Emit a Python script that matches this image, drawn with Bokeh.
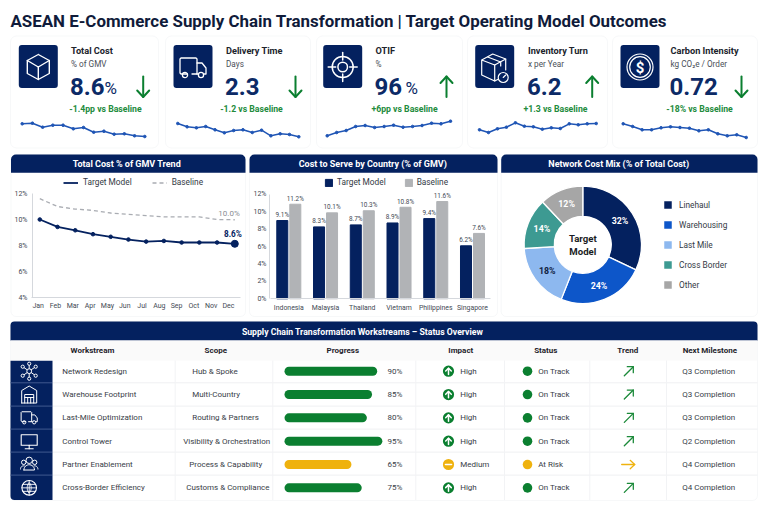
import numpy as np
from bokeh.core.properties import value
from bokeh.embed import file_html
from bokeh.layouts import column, row
from bokeh.models import (BoxAnnotation, FixedTicker, LegendItem, Legend, LinearAxis,
                          PrintfTickFormatter, Range1d)
from bokeh.plotting import figure
from bokeh.resources import INLINE

# ---------- data ----------
TITLE = "ASEAN E-Commerce Supply Chain Transformation | Target Operating Model Outcomes"
kpi_names = ["Total Cost", "Delivery Time", "OTIF", "Inventory Turn", "Carbon Intensity"]
kpi_units = ["% of GMV", "Days", "%", "x per Year", "kg CO₂e / Order"]
kpi_values = ["8.6", "2.3", "96", "6.2", "0.72"]
kpi_suffix = ["%", "", "%", "", ""]
kpi_deltas = ["-1.4pp vs Baseline", "-1.2 vs Baseline", "+6pp vs Baseline", "+1.3 vs Baseline", "-18% vs Baseline"]
kpi_up = [False, False, True, True, False]
spark_cost = [16.7, 17.3, 13.3, 15.3, 15.3, 11.7, 13, 8.3, 9.3, 6.3, 6.7, 4.7, 4]
spark_delivery = [17, 13.7, 12.7, 14, 10.7, 7.7, 10, 10.7, 8, 10.3, 4.7, 6.7, 6, 3.7]
spark_otif = [4.7, 8, 10, 14, 15, 13, 14, 15.3, 13.3, 14, 15, 17.3, 16.7, 19.3]
spark_turn = [10.7, 8, 11.7, 13.3, 17.7, 14.3, 13.7, 11.3, 12.7, 12, 16.7, 15.7, 16.7, 17]
spark_carbon = [16.7, 14, 10.7, 10.7, 12.7, 13.7, 13, 12.3, 9.7, 10.7, 6.7, 4.7, 5.7, 3]

months = ["Jan", "Feb", "Mar", "Apr", "May", "Jun", "Jul", "Aug", "Sep", "Oct", "Nov", "Dec"]
trend_target = [10.0, 9.43, 9.17, 8.87, 8.67, 8.46, 8.3, 8.35, 8.23, 8.23, 8.23, 8.13]
trend_baseline = [11.6, 11.0, 10.8, 10.7, 10.5, 10.4, 10.3, 10.2, 10.2, 10.2, 10.0, 9.98]

countries = ["Indonesia", "Malaysia", "Thailand", "Vietnam", "Philippines", "Singapore"]
country_target = [8.98, 8.25, 8.48, 8.7, 9.2, 6.08]
country_baseline = [10.85, 9.86, 10.1, 10.5, 11.16, 7.5]
target_labels = ["9.1%", "8.3%", "8.7%", "8.9%", "9.4%", "6.2%"]
baseline_labels = ["11.2%", "10.1%", "10.3%", "10.8%", "11.6%", "7.6%"]

mix_names = ["Linehaul", "Warehousing", "Last Mile", "Cross Border", "Other"]
mix_shares = [32, 24, 18, 14, 12]

workstreams = ["Network Redesign", "Warehouse Footprint", "Last-Mile Optimization", "Control Tower",
               "Partner Enablement", "Cross-Border Efficiency"]
scopes = ["Hub & Spoke", "Multi-Country", "Routing & Partners", "Visibility & Orchestration",
          "Process & Capability", "Customs & Compliance"]
progress = [90, 85, 80, 95, 65, 75]
impacts = ["High", "High", "High", "High", "Medium", "High"]
statuses = ["On Track", "On Track", "On Track", "On Track", "At Risk", "On Track"]
milestones = ["Q3 Completion", "Q3 Completion", "Q3 Completion", "Q2 Completion", "Q4 Completion", "Q4 Completion"]
columns_hdr = ["Workstream", "Scope", "Progress", "Impact", "Status", "Trend", "Next Milestone"]

# ---------- style ----------
FONT = "Roboto"
NAVY = "#04215f"
GREEN = "#0b7f30"
AMBER = "#efb20e"
TEXT = "#333a45"
MIX = ["#04215f", "#0d56c9", "#8db8ef", "#3d9a92", "#a6a6a6"]
EDGE = "#e4e7ec"
TOP = {"top_left": 5, "top_right": 5, "bottom_left": 0, "bottom_right": 0}


def map_range(px_a, v_a, px_b, v_b, lo, hi):
    """Range whose ends sit at pixels lo/hi, given two pixel/value pairs."""
    k = (v_b - v_a) / (px_b - px_a)
    return Range1d(start=v_a + (lo - px_a) * k, end=v_a + (hi - px_a) * k)


def pixel_fig(l, t, r, b):
    p = figure(width=r - l, height=b - t, output_backend="svg", toolbar_location=None,
               x_range=Range1d(l, r), y_range=Range1d(b, t), min_border=0, outline_line_color=None,
               background_fill_color="white", border_fill_color="white", frame_align=False)
    p.axis.visible = False
    p.grid.visible = False
    return p


def txt(p, x, y, s, size=8.5, color=TEXT, align="left", bold=False, **kw):
    xs = x if isinstance(x, (list, np.ndarray)) else [x]
    ys = y if isinstance(y, (list, np.ndarray)) else [y]
    ss = s if isinstance(s, list) else [s]
    return p.text(xs, ys, text=ss, text_font=value(FONT), text_font_size=f"{size}px", text_color=color,
                  text_align=align, text_baseline="middle", text_font_style="bold" if bold else "normal", **kw)


def box(p, l, t, r, b, fill="white", line=None, radius=0, width=1, alpha=1):
    p.add_layout(BoxAnnotation(left=l, right=r, top=t, bottom=b, fill_color=fill, fill_alpha=alpha,
                               line_color=line, line_width=width, border_radius=radius, level="underlay"))


def style_axis(a, size, standoff):
    a.axis_line_color = "#d5d8dd"
    a.major_tick_line_color = None
    a.minor_tick_line_color = None
    a.major_tick_out = 0
    a.major_tick_in = 0
    a.minor_tick_out = 0
    a.minor_tick_in = 0
    a.major_label_text_font = FONT
    a.major_label_text_font_size = f"{size}px"
    a.major_label_text_color = "#444a54"
    a.major_label_standoff = standoff


def make_legend(items, x, y, **kw):
    opts = dict(background_fill_alpha=0, border_line_color=None, margin=0, padding=0, label_text_font=FONT,
                label_text_font_size="8.3px", label_text_color="#333a45", label_height=9)
    opts.update(kw)
    return Legend(items=items, location=(x, y), **opts)


def lines(p, cx, cy, polys, color="white", width=1.2, cap="round"):
    p.multi_line([[cx + a for a, _ in q] for q in polys], [[cy + c for _, c in q] for q in polys],
                 line_color=color, line_width=width, line_cap=cap, line_join="round")


def rings(p, cx, cy, items, color="white", width=1.2, fill=None):
    p.circle([cx + i[0] for i in items], [cy + i[1] for i in items], radius=[i[2] for i in items],
             fill_color=fill, fill_alpha=1 if fill else 0, line_color=color, line_width=width)


def arc_pts(ax, ay, r, a0, a1, n=14):
    t = np.radians(np.linspace(a0, a1, n))
    return list(zip(ax + r * np.cos(t), ay + r * np.sin(t)))


def icon_cube(p, c, y):
    lines(p, c, y, [[(0, -12.5), (11, -6.5), (11, 6.5), (0, 12.5), (-11, 6.5), (-11, -6.5), (0, -12.5)],
                    [(-11, -6.5), (0, 0), (11, -6.5)], [(0, 0), (0, 12.5)]], width=1.4)


def icon_truck(p, c, y, s=1.0, width=1.3):
    lines(p, c, y, [[(-5.5 * s, 7 * s), (-12 * s, 7 * s), (-13 * s, 6 * s), (-13 * s, -8 * s), (-12 * s, -9 * s),
                     (3 * s, -9 * s), (4 * s, -8 * s), (4 * s, 7 * s), (-1 * s, 7 * s)],
                    [(4 * s, -4 * s), (9 * s, -4 * s), (13 * s, 1 * s), (13 * s, 7 * s), (11 * s, 7 * s)],
                    [(4 * s, 7 * s), (5 * s, 7 * s)]], width=width)
    rings(p, c, y, [(-8 * s, 8 * s, 2.6 * s), (8 * s, 8 * s, 2.6 * s)], width=width)


def icon_target(p, c, y):
    rings(p, c, y, [(0, 0, 10.5), (0, 0, 4.8)], width=1.5)
    lines(p, c, y, [[(0, -14.5), (0, -7)], [(0, 7), (0, 14.5)], [(-14.5, 0), (-7, 0)], [(7, 0), (14.5, 0)]], width=1.5)


def icon_boxclock(p, c, y):
    lines(p, c, y, [[(-13, -7), (-2, -13), (11, -8), (0, -2), (-13, -7), (-13, 8), (0, 14), (3, 12.5)],
                    [(0, -2), (0, 14)], [(11, -8), (11, 3)], [(-7, -10), (6, -5), (6, -1)]], width=1.2)
    rings(p, c, y, [(8.5, 10.5, 5)], width=1.2, fill=NAVY)
    lines(p, c, y, [[(8.5, 10.5), (11, 8)]], width=1.1)


def icon_dollar(p, c, y):
    rings(p, c, y, [(0, 0, 13), (0, 0, 10.3)], width=1.2)
    txt(p, c, y + 0.5, "$", size=15, color="white", align="center", bold=True)


card_left = [0, 162, 313, 464, 610, 760]
card_box = [(10, 158), (165, 310), (316, 462), (467, 607), (612, 757)]
icon_l = [18.3, 173, 322.7, 474.7, 620]
text_x = [70.5, 225.5, 375, 527.5, 670]
delta_c = [105, 251, 404, 555, 699]
arrow_x = [142.7, 295, 446, 591.7, 741]
suffix_x = [104, None, 405, None, None]
spark_x = [(21.7, 144.3), (177.3, 298.3), (326.7, 450), (479, 595.7), (622.7, 745.7)]
sparks = [spark_cost, spark_delivery, spark_otif, spark_turn, spark_carbon]
icons = [icon_cube, icon_truck, icon_target, icon_boxclock, icon_dollar]

head = pixel_fig(0, 0, 760, 34)
txt(head, 10, 20, TITLE, size=16.9, color="#101b3a", bold=True)

cards = []
for i in range(5):
    l, r = card_left[i], card_left[i + 1]
    p = pixel_fig(l, 34, r, 150)
    box(p, card_box[i][0], 35.5, card_box[i][1], 147.5, line=EDGE, radius=6)
    box(p, icon_l[i], 44.5, icon_l[i] + 39, 87.5, fill=NAVY, radius=3)
    icons[i](p, icon_l[i] + 19.5, 66.5)
    txt(p, text_x[i], 50, kpi_names[i], size=9.2, color="#20242c", bold=True)
    txt(p, text_x[i], 63, kpi_units[i], size=8.2, color="#4a4f58")
    txt(p, text_x[i] - 1, 85.5, kpi_values[i], size=24, color="#0c2a66", bold=True)
    if kpi_suffix[i]:
        txt(p, suffix_x[i], 87, kpi_suffix[i], size=17, color="#0c2a66")
    txt(p, delta_c[i], 108, kpi_deltas[i], size=8.7, color="#228b3c", align="center", bold=True)
    ax = arrow_x[i]
    if kpi_up[i]:
        lines(p, ax, 76, [[(0, 0), (0, 20.5)], [(-6, 6.5), (0, 0), (6, 6.5)]], color=GREEN, width=2)
    else:
        lines(p, ax, 76, [[(0, 0), (0, 20.5)], [(-6, 14), (0, 20.5), (6, 14)]], color=GREEN, width=2)
    vals = sparks[i]
    idx = list(range(len(vals)))
    p.extra_x_ranges = {"s": map_range(spark_x[i][0], 0, spark_x[i][1], len(vals) - 1, l, r)}
    p.extra_y_ranges = {"s": map_range(140, 0, 120, 20, 150, 34)}
    p.line(idx, vals, line_color="#1f55b5", line_width=1.5, x_range_name="s", y_range_name="s")
    p.scatter(idx, vals, size=2.6, color="#1f55b5", x_range_name="s", y_range_name="s")
    cards.append(p)

# ---------- trend ----------
t = pixel_fig(0, 150, 247, 320)
box(t, 10.5, 154, 245, 316, line=EDGE, radius=5)
box(t, 10.5, 154, 245, 172.3, fill=NAVY, radius=TOP)
txt(t, 126.3, 163.3, "Total Cost % of GMV Trend", size=9, color="white", align="center", bold=True)
t.extra_x_ranges = {"m": map_range(39.3, 0, 234.3, 11, 0, 247), "lab": map_range(37.7, 0, 228, 11, 0, 247)}
t.extra_y_ranges = {"pct": map_range(193, 12, 297, 4, 320, 150)}
xax = LinearAxis(x_range_name="lab", ticker=FixedTicker(ticks=list(range(12))),
                 major_label_overrides={i: m for i, m in enumerate(months)}, fixed_location=297,
                 bounds=(-0.4, 11.7))
yax = LinearAxis(y_range_name="pct", ticker=FixedTicker(ticks=[4, 6, 8, 10, 12]),
                 formatter=PrintfTickFormatter(format="%d%%"), fixed_location=32, bounds=(4, 12))
style_axis(xax, 7, 4)
style_axis(yax, 7, 5)
t.add_layout(xax, "below")
t.add_layout(yax, "left")
xs = list(range(12))
dn = dict(x_range_name="m", y_range_name="pct")
r_b = t.line(xs, trend_baseline, line_color="#a9acb2", line_width=1.3, line_dash=[4, 3], **dn)
r_t = t.line(xs, trend_target, line_color=NAVY, line_width=1.8, **dn)
t.scatter(xs, trend_target, size=3.6, color=NAVY, **dn)
t.scatter(xs[-1:], trend_target[-1:], size=7, color=NAVY, **dn)
t.text(xs[-1:], trend_baseline[-1:], text=["10.0%"], text_font=value(FONT), text_font_size="8px", text_color="#8a8d93",
       text_align="right", text_baseline="bottom", x_offset=5, y_offset=-2, **dn)
t.text(xs[-1:], trend_target[-1:], text=["8.6%"], text_font=value(FONT), text_font_size="8.2px", text_color=NAVY,
       text_font_style="bold", text_align="right", text_baseline="bottom", x_offset=7, y_offset=-4.5, **dn)
t.add_layout(make_legend([LegendItem(label="Target Model", renderers=[r_t]), LegendItem(label="Baseline", renderers=[r_b])],
                         63, 133, orientation="horizontal", spacing=20, glyph_width=15, glyph_height=9, label_standoff=5))

# ---------- bars ----------
c = pixel_fig(247, 150, 499, 320)
box(c, 249, 154, 497, 316, line=EDGE, radius=5)
box(c, 249, 154, 497, 172.3, fill=NAVY, radius=TOP)
txt(c, 372.3, 163.3, "Cost to Serve by Country (% of GMV)", size=9, color="white", align="center", bold=True)
c.extra_x_ranges = {"cat": map_range(288.3, 0, 472, 5, 247, 499)}
c.extra_y_ranges = {"pct": map_range(193.7, 12, 298.3, 0, 320, 150)}
xac = LinearAxis(x_range_name="cat", ticker=FixedTicker(ticks=list(range(6))),
                 major_label_overrides={i: m for i, m in enumerate(countries)}, fixed_location=298.3, bounds=(-0.5, 5.5))
yac = LinearAxis(y_range_name="pct", ticker=FixedTicker(ticks=[0, 2, 4, 6, 8, 10, 12]),
                 formatter=PrintfTickFormatter(format="%d%%"), fixed_location=269, bounds=(0, 12))
style_axis(xac, 6.9, 5)
style_axis(yac, 7, 3)
c.add_layout(xac, "below")
c.add_layout(yac, "left")
OFF = 0.177
pos = np.arange(6)
dc = dict(x_range_name="cat", y_range_name="pct")
b1 = c.vbar(x=pos - OFF, top=country_target, width=0.3, color=NAVY, **dc)
b2 = c.vbar(x=pos + OFF, top=country_baseline, width=0.3, color="#b1b3b6", **dc)
for xv, yv, lab in ((pos - OFF, country_target, target_labels), (pos + OFF, country_baseline, baseline_labels)):
    c.text(x=xv, y=yv, text=lab, text_font=value(FONT), text_font_size="6.4px",
           text_color="#444a54", text_align="center", text_baseline="bottom", y_offset=-1.5, **dc)
c.add_layout(make_legend([LegendItem(label="Target Model", renderers=[b1]), LegendItem(label="Baseline", renderers=[b2])],
                         77, 133, orientation="horizontal", spacing=18, glyph_width=9, glyph_height=9, label_standoff=4))

# ---------- donut ----------
d = pixel_fig(499, 150, 760, 320)
box(d, 500.7, 154, 757, 316, line=EDGE, radius=5)
box(d, 500.7, 154, 757, 172.3, fill=NAVY, radius=TOP)
txt(d, 618.3, 163.3, "Network Cost Mix (% of Total Cost)", size=9, color="white", align="center", bold=True)
cx, cy = 582.3, 244.3
theta = np.concatenate([[0], np.cumsum(mix_shares)]) / sum(mix_shares) * 2 * np.pi
legend_items = []
for i, n in enumerate(mix_names):
    r = d.annular_wedge([cx], [cy], inner_radius=28.5, outer_radius=58.7, start_angle=np.pi / 2 - theta[i],
                        end_angle=np.pi / 2 - theta[i + 1], direction="clock", fill_color=MIX[i],
                        line_color="white", line_width=1.3)
    legend_items.append(LegendItem(label=n, renderers=[r]))
    mid = (theta[i] + theta[i + 1]) / 2
    txt(d, cx + 44 * np.sin(mid), cy - 44 * np.cos(mid), f"{mix_shares[i]}%", size=8.8,
        color="#10223f" if i == 2 else "white", align="center", bold=True)
txt(d, cx, 237.5, "Target", size=9.6, color="#1a1d24", align="center", bold=True)
txt(d, cx, 250.5, "Model", size=9.6, color="#1a1d24", align="center", bold=True)
d.add_layout(make_legend(legend_items, 163, 30, orientation="vertical", spacing=9, glyph_width=11, glyph_height=11, label_standoff=6))

# ---------- table ----------
g = pixel_fig(0, 320, 760, 504)
box(g, 10, 321, 757, 500, line=EDGE, radius=5)
box(g, 10, 321, 757, 340, fill=NAVY, radius={"top_left": 4, "top_right": 4, "bottom_left": 0, "bottom_right": 0})
box(g, 10.5, 340, 756.5, 360, fill="#fafafa")
box(g, 10, 360.3, 52, 499.5, fill=NAVY, radius={"top_left": 0, "top_right": 0, "bottom_left": 4, "bottom_right": 0})
txt(g, 362, 331, "Supply Chain Transformation Workstreams – Status Overview", size=8.7, color="white", align="center", bold=True)
hdr_x = [92, 215.3, 342.3, 460.3, 545.3, 627.3, 709.3]
txt(g, hdr_x, [350.3] * 7, columns_hdr, size=8, color="#1f232b", align="center", bold=True)
row_y = [370.7 + 23.33 * i for i in range(6)]
sep = [382.3, 405.6, 428.6, 451.6, 474.6]
g.segment([52] * 5, sep, [757] * 5, sep, line_color="#eff0f2", line_width=1)
g.segment([10] * 5, sep, [52] * 5, sep, line_color="#41598f", line_width=1)
vsep = [174.7, 272.3, 415.3, 504, 589.3, 666]
g.segment(vsep, [360] * 6, vsep, [499.5] * 6, line_color="#f2f3f5", line_width=1)
BODY = 8
txt(g, [61.7] * 6, row_y, workstreams, color="#383d47", size=BODY)
scope_x = [191.7, 191.7, 191.7, 182.7, 188.7, 185.7]
txt(g, scope_x, row_y, scopes, color="#383d47", size=BODY)
g.extra_x_ranges = {"pct": map_range(284, 0, 387, 100, 0, 760)}
ok = [s == "On Track" for s in statuses]
col = [GREEN if k else AMBER for k in ok]
g.hbar(y=row_y, left=[0] * 6, right=progress, height=9, fill_color=col, line_color=None, border_radius=5, x_range_name="pct")
txt(g, [387] * 6, row_y, [f"{v}%" for v in progress], color="#383d47", size=BODY)
txt(g, [459.7] * 6, row_y, impacts, color="#383d47", size=BODY)
txt(g, [537.7] * 6, row_y, statuses, color="#383d47", size=BODY)
txt(g, [681.7] * 6, row_y, milestones, color="#383d47", size=BODY)
g.circle([448] * 6, row_y, radius=5.6, fill_color=col, line_color=None)
g.circle([527] * 6, row_y, radius=4.8, fill_color=col, line_color=None)
for i, y in enumerate(row_y):
    if ok[i]:
        lines(g, 448, y, [[(0, 3.3), (0, -3)], [(-2.8, -0.2), (0, -3), (2.8, -0.2)]], width=1.5)
        lines(g, 628.3, y, [[(-4.5, 4.5), (4.5, -4.5)], [(-1.5, -4.5), (4.5, -4.5), (4.5, 1.5)]], color="#1c8a3a", width=1.3)
    else:
        lines(g, 448, y, [[(-3, 0), (3, 0)]], width=1.6)
        lines(g, 627.7, y, [[(-6.5, 0), (6.5, 0)], [(2, -4.2), (6.5, 0), (2, 4.2)]], color=AMBER, width=1.3)

ix = 28.7
y = row_y[0]
spokes = [(-6.5, -4.5), (0, -7.5), (6.5, -4.5), (-6.5, 4.5), (0, 7.5), (6.5, 4.5)]
lines(g, ix, y, [[(0, 0), q] for q in spokes], width=1)
rings(g, ix, y, [(0, 0, 2.4)] + [(a, b, 1.6) for a, b in spokes], width=1, fill=NAVY)
y = row_y[1]
lines(g, ix, y, [[(-7.5, 8.5), (-7.5, -4), (0, -8.5), (7.5, -4), (7.5, 8.5), (-7.5, 8.5)],
                 [(-4.5, 8.5), (-4.5, 0), (4.5, 0), (4.5, 8.5)], [(-4.5, 3), (4.5, 3)], [(-1.5, 3), (-1.5, 8.5)], [(1.5, 3), (1.5, 8.5)]], width=1)
icon_truck(g, ix, row_y[2] - 0.5, s=0.62, width=1.0)
y = row_y[3]
lines(g, ix, y, [[(-8, -6.5), (8, -6.5), (8, 4), (-8, 4), (-8, -6.5)], [(0, 4), (0, 7.5)], [(-4, 7.5), (4, 7.5)]], width=1.1)
y = row_y[4]
rings(g, ix, y, [(0, -4.2, 3.2), (-5.5, -2.2, 2.2), (5.5, -2.2, 2.2)], width=1)
lines(g, ix, y, [arc_pts(0, 5.5, 5.3, 180, 360) + [(5.3, 5.5), (-5.3, 5.5)],
                 arc_pts(-5.5, 4.5, 3.2, 180, 280), arc_pts(5.5, 4.5, 3.2, 260, 360)], width=1)
y = row_y[5]
rings(g, ix, y, [(0, 0, 7.3)], width=1.1)
lines(g, ix, y, [[(-7.3, 0), (7.3, 0)], [(0, -7.3), (0, 7.3)], [(-6.3, -3.5), (6.3, -3.5)], [(-6.3, 3.5), (6.3, 3.5)],
                 arc_pts(6.5, 0, 8.5, 145, 215), arc_pts(-6.5, 0, 8.5, -35, 35)], width=0.9)

page = column(head, row(*cards, spacing=0), row(t, c, d, spacing=0), g, spacing=0)
open("out.html", "w").write(file_html(page, INLINE))
